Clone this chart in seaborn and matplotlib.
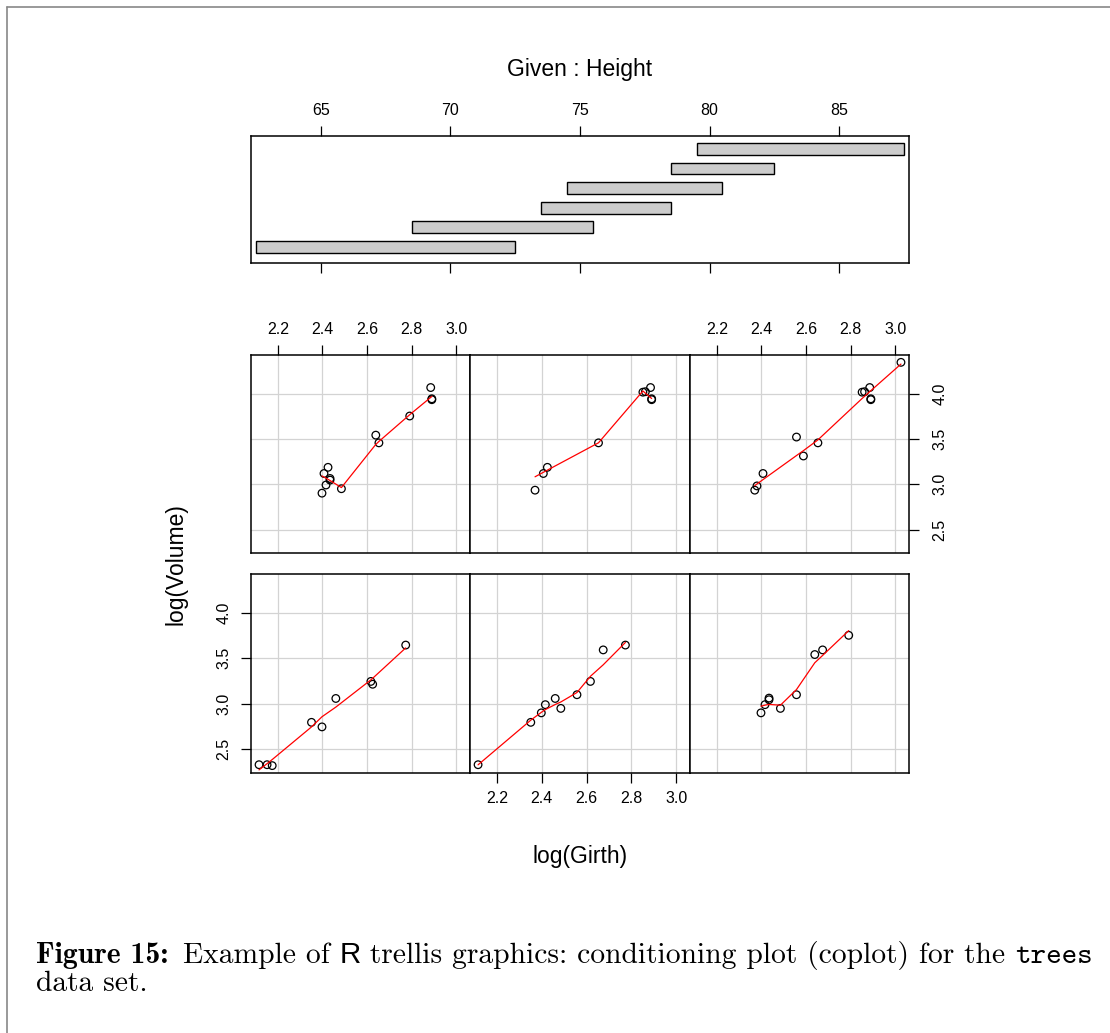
import matplotlib
matplotlib.use("Agg")
import matplotlib.pyplot as plt
from matplotlib.lines import Line2D
import numpy as np
import seaborn as sns

# trees data (log scale as plotted)
log_girth = [2.116, 2.152, 2.175, 2.351, 2.370, 2.380, 2.398, 2.398, 2.407,
             2.416, 2.425, 2.434, 2.434, 2.460, 2.485, 2.557, 2.557, 2.588,
             2.617, 2.625, 2.639, 2.653, 2.674, 2.773, 2.791, 2.851, 2.862,
             2.885, 2.890, 2.890, 3.025]
height = [70, 65, 63, 72, 81, 83, 66, 75, 80, 75, 79, 76, 76, 69, 75, 74,
          85, 86, 71, 64, 78, 80, 74, 72, 77, 81, 82, 80, 80, 80, 87]
log_volume = [2.332, 2.332, 2.322, 2.797, 2.934, 2.981, 2.747, 2.901, 3.118,
              2.991, 3.186, 3.045, 3.063, 3.059, 2.950, 3.100, 3.520, 3.311,
              3.246, 3.215, 3.541, 3.456, 3.592, 3.645, 3.752, 4.015, 4.020,
              4.066, 3.942, 3.932, 4.344]

# conditioning intervals for Height
given_lo = [62.5, 68.5, 73.5, 74.5, 78.5, 79.5]
given_hi = [72.5, 75.5, 78.5, 80.5, 82.5, 87.5]

height_ticks = [65, 70, 75, 80, 85]
girth_ticks = [2.2, 2.4, 2.6, 2.8, 3.0]
volume_ticks = [2.5, 3.0, 3.5, 4.0]

W, H = 1110, 1033


def lowess(x, y, f=2 / 3, n_iter=3):
    # plain lowess, same idea as R's panel.smooth
    x = np.asarray(x, float)
    y = np.asarray(y, float)
    o = np.argsort(x, kind="stable")
    x, y = x[o], y[o]
    n = len(x)
    ns = max(2, min(n, int(f * n + 1e-7)))
    rw = np.ones(n)
    fit = y.copy()
    for _ in range(n_iter + 1):
        for i in range(n):
            d = np.abs(x - x[i])
            h = np.sort(d)[ns - 1]
            if h > 0:
                u = d / h
                w = np.where(u < 0.999, (1 - u ** 3) ** 3, 0.0)
            else:
                w = (d == 0).astype(float)
            w = w * rw
            if w.sum() <= 0:
                fit[i] = y[i]
                continue
            w = w / w.sum()
            a = (w * x).sum()
            c = (w * (x - a) ** 2).sum()
            if np.sqrt(c) > 0.001 * (x[-1] - x[0]):
                b = (w * (x - a) * y).sum() / c
                fit[i] = (w * y).sum() + b * (x[i] - a)
            else:
                fit[i] = (w * y).sum()
        res = np.abs(y - fit)
        cmad = 6 * np.median(res)
        if cmad < 1e-7 * np.mean(np.abs(y)):
            break
        r = res / cmad
        rw = np.where(r < 1, (1 - r ** 2) ** 2, 0.0)
    return x, fit


def fax(fig, x0, y0, x1, y1):
    return fig.add_axes([x0 / W, 1 - y1 / H, (x1 - x0) / W, (y1 - y0) / H])


def style_box(ax):
    for s in ax.spines.values():
        s.set_linewidth(1.1)
        s.set_color("black")


sns.set_theme(style="white")
plt.rcParams["font.family"] = ["Liberation Sans", "DejaVu Sans"]
plt.rcParams["text.color"] = "black"
plt.rcParams["axes.labelcolor"] = "black"
plt.rcParams["xtick.color"] = "black"
plt.rcParams["ytick.color"] = "black"

TICK_FS = 11.5
LAB_FS = 16.5

fig = plt.figure(figsize=(W / 100, H / 100), dpi=100)

# ---- given panel ----
gax = fax(fig, 251, 136, 909, 263)
levels = np.arange(1, len(given_lo) + 1)
gax.barh(levels, np.array(given_hi) - np.array(given_lo), left=given_lo,
         height=0.6, color="#cccccc", edgecolor="black", linewidth=1.0)
gax.set_xlim(62.3, 87.7)
gax.set_ylim(0.18, 6.66)
gax.set_yticks([])
gax.set_xticks(height_ticks)
gax.tick_params(axis="x", which="both", top=True, bottom=True,
                labeltop=True, labelbottom=False, direction="out",
                length=7, width=0.9, pad=6, labelsize=TICK_FS)
gax.set_title("Given : Height", fontsize=LAB_FS, pad=43)
style_box(gax)

# ---- conditioning panels ----
col_x = [(251, 470), (470, 690), (690, 909)]
row_y = [(574, 773), (355, 553)]  # bottom row first
gx = np.array(log_girth)
vy = np.array(log_volume)
hh = np.array(height)

for k in range(6):
    r, c = divmod(k, 3)
    x0, x1 = col_x[c]
    y0, y1 = row_y[r]
    ax = fax(fig, x0, y0, x1, y1)
    sel = (hh >= given_lo[k]) & (hh <= given_hi[k])
    ax.set_xlim(2.080, 3.061)
    ax.set_ylim(2.241, 4.425)
    ax.set_xticks(girth_ticks)
    ax.set_yticks(volume_ticks)
    ax.grid(True, color="#d3d3d3", linewidth=0.9)
    ax.set_axisbelow(True)
    sns.scatterplot(x=gx[sel], y=vy[sel], ax=ax, marker="o", s=30,
                    facecolor="none", edgecolor="black", linewidth=0.9,
                    zorder=3)
    sx, sy = lowess(gx[sel], vy[sel])
    sns.lineplot(x=sx, y=sy, ax=ax, color="red", linewidth=0.9,
                 estimator=None, sort=False, zorder=4)
    ax.set_xlabel("")
    ax.set_ylabel("")
    style_box(ax)
    show_top = (r == 1 and c in (0, 2))
    show_bottom = (r == 0 and c == 1)
    show_left = (r == 0 and c == 0)
    show_right = (r == 1 and c == 2)
    ax.tick_params(axis="x", direction="out", length=7, width=0.9,
                   pad=6, labelsize=TICK_FS,
                   top=show_top, labeltop=show_top,
                   bottom=show_bottom, labelbottom=show_bottom)
    ax.tick_params(axis="y", direction="out", length=7, width=0.9,
                   pad=10 if show_right else 7, labelsize=TICK_FS,
                   labelrotation=90,
                   left=show_left, labelleft=show_left,
                   right=show_right, labelright=show_right)
    ax.set_xticklabels([f"{t:.1f}" for t in girth_ticks])
    ax.set_yticklabels([f"{t:.1f}" for t in volume_ticks], va="center")

fig.text(176 / W, 1 - 564 / H, "log(Volume)", rotation=90, fontsize=LAB_FS,
         ha="center", va="center")
fig.text(580 / W, 1 - 857 / H, "log(Girth)", fontsize=LAB_FS,
         ha="center", va="center")

# ---- page frame ----
fig.add_artist(Line2D([7 / W, 7 / W], [0, 1 - 7 / H], color="#888888",
                      linewidth=1.2))
fig.add_artist(Line2D([7 / W, 1], [1 - 7 / H, 1 - 7 / H], color="#888888",
                      linewidth=1.2))

# ---- caption ----
# (text, family, extra gap in px after the piece)
pieces = [("Figure 15:", "cmb10", 14), ("Example of ", "cmr10", 0),
          ("R", "Liberation Sans", 0),
          (" trellis graphics: conditioning plot (coplot) for the ", "cmr10", 0),
          ("trees", "cmtt10", 0)]
renderer = fig.canvas.get_renderer()


def text_width(s, fam, size):
    # measure with markers so leading/trailing spaces count
    t = fig.text(0, 0, "|" + s + "|", family=fam, fontsize=size)
    t2 = fig.text(0, 0, "||", family=fam, fontsize=size)
    w = (t.get_window_extent(renderer).width
         - t2.get_window_extent(renderer).width)
    t.remove()
    t2.remove()
    return w


cap_left, cap_right = 36.0, 1090.0
base = 17.5
gaps = sum(g for _, _, g in pieces)
total = sum(text_width(s, fam, base) for s, fam, _ in pieces)
cap_size = base * (cap_right - cap_left - gaps) / total

xpos = cap_left
y1 = 1 - 963 / H
for s, fam, g in pieces:
    fig.text(xpos / W, y1, s, family=fam, fontsize=cap_size, va="baseline")
    xpos += text_width(s, fam, cap_size) + g
fig.text(cap_left / W, 1 - 991 / H, "data set.", family="cmr10",
         fontsize=cap_size, va="baseline")

fig.savefig("out.png", dpi=100, facecolor="white")
